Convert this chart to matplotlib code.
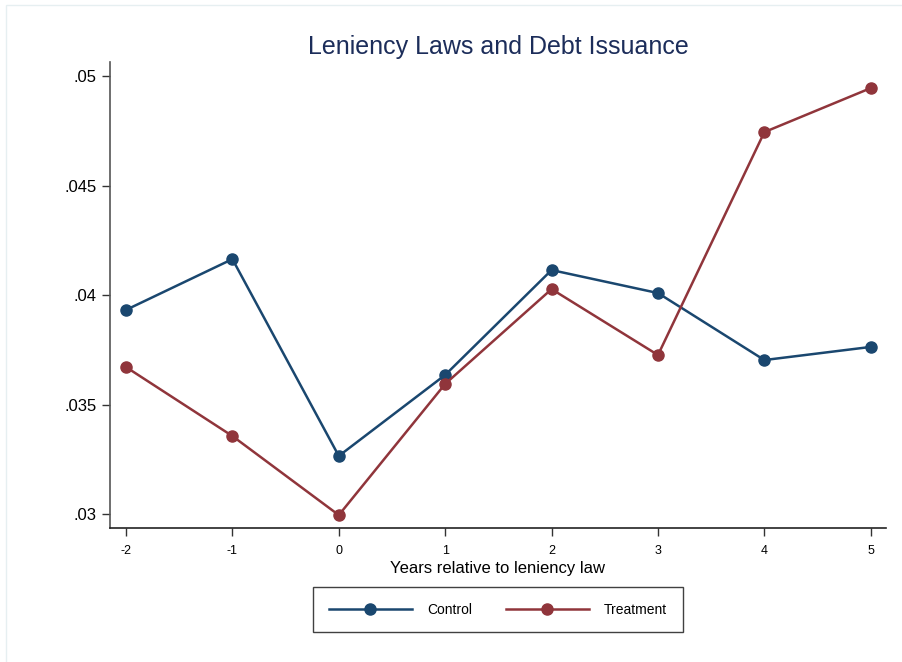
import matplotlib.pyplot as plt
from matplotlib.patches import Rectangle

# ================================
# Data
# ================================
years = [-2, -1, 0, 1, 2, 3, 4, 5]
control = [0.03932, 0.04164, 0.03265, 0.03635, 0.04114, 0.04009, 0.03703, 0.03763]
treatment = [0.03671, 0.03356, 0.02995, 0.03594, 0.04027, 0.03726, 0.04744, 0.04945]
ytick_vals = [0.03, 0.035, 0.04, 0.045, 0.05]
ytick_labels = [".03", ".035", ".04", ".045", ".05"]

c_control = "#1a476f"
c_treat = "#90353b"

plt.rcParams["font.family"] = ["Liberation Sans", "DejaVu Sans"]

fig = plt.figure(figsize=(9.02, 6.62), dpi=100)
ax = fig.add_axes([0.122, 0.2024, 0.860, 0.7039])

# faint outer frame
fig.patches.append(Rectangle((6 / 902, -0.01), 1.0, 1 - 5 / 662 + 0.01,
                             transform=fig.transFigure, fill=False,
                             edgecolor="#e6eff1", linewidth=1))

ax.plot(years, control, color=c_control, marker="o", markersize=8,
        linewidth=1.8, label="Control")
ax.plot(years, treatment, color=c_treat, marker="o", markersize=8,
        linewidth=1.8, label="Treatment")

ax.set_xlim(-2.15, 5.141)
ax.set_ylim(0.02936, 0.05064)
ax.set_xticks(years)
ax.set_xticklabels([str(y) for y in years], fontsize=9)
ax.set_yticks(ytick_vals)
ax.set_yticklabels(ytick_labels, fontsize=12)
ax.tick_params(axis="both", direction="out", length=6, width=1, color="#333333")
ax.tick_params(axis="x", pad=6)

for side in ["top", "right"]:
    ax.spines[side].set_visible(False)
ax.spines["left"].set_color("#555555")
ax.spines["bottom"].set_color("#222222")
ax.spines["left"].set_linewidth(1.2)
ax.spines["bottom"].set_linewidth(1.2)

ax.set_xlabel("Years relative to leniency law", fontsize=12, labelpad=3)
ax.set_title("Leniency Laws and Debt Issuance", fontsize=18, color="#1c2d5a", pad=6)

leg = fig.legend(loc="center", bbox_to_anchor=(498 / 902, 1 - 609.5 / 662), ncol=2,
                 fontsize=10, frameon=True, fancybox=False, edgecolor="#111111",
                 handlelength=6, columnspacing=2.4, handletextpad=1.1,
                 borderpad=1.1, borderaxespad=0)
leg.get_frame().set_linewidth(1.0)

fig.savefig("out.png", dpi=100)
